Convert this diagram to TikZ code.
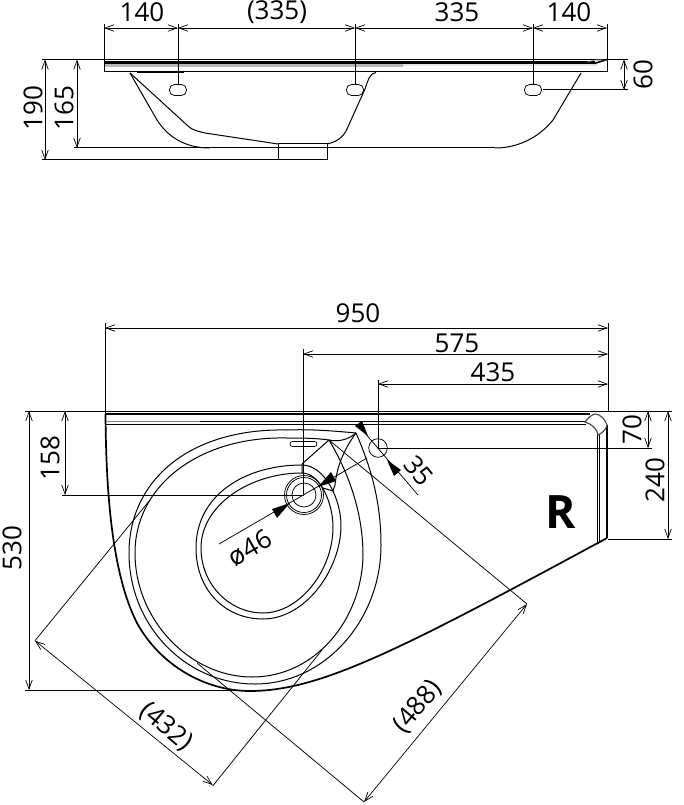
\documentclass[tikz,border=0pt]{standalone}
\usepackage{fontspec}
\setmainfont{Open Sans}
\usetikzlibrary{arrows.meta}
\tikzset{
 ln/.style={line width=1pt,black},
 thin ln/.style={line width=0.75pt,black},
 heavy/.style={line width=2.2pt,black},
 dim/.style={line width=0.7pt,black,{Straight Barb[length=9pt,width=6.5pt]}-{Straight Barb[length=9pt,width=6.5pt]}},
 lab/.style={font=\fontsize{26}{26}\selectfont,inner sep=0pt,text=black},
 solidtip/.style={black,fill=black,draw=none},
}
\begin{document}
\begin{tikzpicture}[x=1pt,y=-1pt,every node/.style={anchor=center}]
\useasboundingbox[fill=white] (0,0) rectangle (683,805);
% ---------- side view
\fill[gray!55] (104,64) rectangle (403,67.5);
\fill[gray!20] (403,64) rectangle (597,66.5);
\draw[ln] (104,59.5) -- (607,59.5) -- (607,72) -- (104,72) -- cycle;
\draw[line width=3pt] (105,63) -- (595,63);
\draw[line width=1.6pt] (595,63.3) -- (607,59.5);
\draw[line width=0.7pt,gray] (587,62) -- (595,60) -- (603,60);
\draw[line width=1.2pt] (137,72.7) -- (184,72.7);
\draw[ln] (130,73) -- (157,120) .. controls (168,137) and (185,148) .. (210,148);
\draw[ln] (130,73) -- (188,126) .. controls (192,130) and (197,131) .. (205,133) -- (278,144);
\draw[ln] (327,144) .. controls (336,142) and (343,138) .. (347,129) -- (365,89) .. controls (368,80) and (370,73) .. (376,72.5);
\draw[ln] (581,73) -- (553,120) .. controls (540,136) and (520,148) .. (495,148);
\draw[ln] (74,148) -- (495,148);
\draw[ln] (42,160) -- (327,160);
\draw[ln] (278,144) rectangle (327,160);
\draw[ln] (42,59.5) -- (104,59.5);
\foreach \x in {178,355,533} {
  \draw[ln] (\x,24) -- (\x,84);
  \draw[thin ln,rounded corners=5pt] (\x-8.5,84.5) rectangle (\x+8.5,95.5);
}
\draw[ln] (104,24) -- (104,60);
\draw[ln] (607,24) -- (607,60);
\draw[ln] (607,59.5) -- (628,59.5);
\draw[ln] (543,90) -- (628,90);
\draw[dim] (104,28) -- (178,28);
\draw[dim] (178,28) -- (355,28);
\draw[dim] (355,28) -- (533,28);
\draw[dim] (533,28) -- (607,28);
\draw[dim] (45,59.5) -- (45,160);
\draw[dim] (77,59.5) -- (77,148);
\draw[dim] (624,59.5) -- (624,90);
\node[lab] (a1) at (142,12) {140};
\node[lab] (a2) at (277,12) {(335)};
\node[lab] (a3) at (457,12) {335};
\node[lab] (a4) at (569,12) {140};
\node[lab,rotate=90] (a5) at (33,108) {190};
\node[lab,rotate=90] (a6) at (64,108) {165};
\node[lab,rotate=90] (a7) at (643,75) {60};
% ---------- plan view: extension lines
\draw[ln] (25,411) -- (672,411);
\draw[ln] (105,323) -- (105,414);
\draw[ln] (608,323) -- (608,411);
\draw[ln] (303,349) -- (303,495);
\draw[ln] (378,380) -- (378,448);
\draw[ln] (62,495) -- (304,495);
\draw[ln] (378,448) -- (652,448);
\draw[ln] (608,539) -- (672,539);
\draw[ln] (25,690) -- (255,690);
\draw[dim] (105,328) -- (608,328);
\draw[dim] (303,354) -- (608,354);
\draw[dim] (378,384) -- (608,384);
\draw[dim] (65,411) -- (65,495);
\draw[dim] (29,411) -- (29,690);
\draw[dim] (648,411) -- (648,448);
\draw[dim] (668,411) -- (668,539);
\node[lab] (b1) at (358,313) {950};
\node[lab] (b2) at (457,343) {575};
\node[lab] (b3) at (493,372) {435};
\node[lab,rotate=90] (b4) at (50,458) {158};
\node[lab,rotate=90] (b5) at (12,548) {530};
\node[lab,rotate=90] (b6) at (632,430) {70};
\node[lab,rotate=90] (b7) at (655,480) {240};
\node[font=\fontsize{46}{46}\selectfont\bfseries,inner sep=0pt] (r) at (561,512) {R};
% ---------- plan view: sink outline
\draw[line width=1.7pt] (105.5,414) .. controls (106,480) and (110,570) .. (137,623)
   .. controls (160,665) and (205,691) .. (250,691)
   .. controls (320,691) and (400,650) .. (607,538);
\draw[heavy] (106,414) -- (590,414);
\draw[line width=1pt,gray] (106,421.5) -- (200,421.5);
\draw[thin ln] (200,421.5) -- (585,421.5);
\draw[thin ln] (106,424) -- (586,424);
\draw[line width=1.8pt] (607,425) -- (607,538);
\draw[thin ln] (597,433) -- (597,544);
\draw[thin ln] (599.5,433) -- (599.5,542);
\draw[thin ln] (597,544) -- (607,538);
\draw[line width=1.2pt,gray!60!black,fill=white] (585,422) .. controls (588,418) and (591,415) .. (595,414)
  .. controls (600,414) and (605,419) .. (607,425) .. controls (606,430) and (602,433) .. (598,435)
  .. controls (597,429) and (592,424) .. (585,422) -- cycle;
% ---------- bowl rings
\draw[ln] (356,433) .. controls (335,431) and (310,429) .. (287,430)
  .. controls (190,428) and (129,480) .. (129,553)
  .. controls (129,625) and (185,684) .. (255,684)
  .. controls (325,684) and (381,620) .. (381,545)
  .. controls (381,500) and (370,465) .. (356,433);
\draw[ln] (329,440) .. controls (315,438) and (300,438) .. (287,438)
  .. controls (200,436) and (135,485) .. (135,553)
  .. controls (135,620) and (190,677) .. (252,677)
  .. controls (315,677) and (362,620) .. (363,555)
  .. controls (363,515) and (350,475) .. (329,440);
\draw[ln] (302,465) .. controls (245,465) and (196,495) .. (196,548)
  .. controls (196,590) and (225,619) .. (263,619)
  .. controls (305,619) and (341,570) .. (341,525)
  .. controls (341,500) and (325,465) .. (302,465);
\draw[ln] (302,473) .. controls (250,473) and (201,505) .. (201,548)
  .. controls (201,585) and (230,613) .. (263,613)
  .. controls (300,613) and (333,570) .. (333,527)
  .. controls (333,503) and (320,473) .. (302,473);
\draw[ln] (329,440) -- (302,464) -- (302,473);
\draw[ln] (329,440) .. controls (338,442) and (348,440) .. (356,433);
\draw[ln] (356,433) .. controls (345,448) and (337,465) .. (335,485) -- (333,491) -- (323,488);
% slot
\draw[thin ln,rounded corners=2.4pt] (290,441.5) rectangle (317,446.5);
% drain
\draw[thin ln] (304,495) circle (19.5);
\draw[thin ln] (304,495) circle (17.5);
\draw[thin ln] (304,495) circle (12);
\draw[thin ln] (378,448) circle (9.3);
% ---------- leaders
\draw[thin ln] (35,640.7) -- (150,500);
\draw[thin ln] (212.7,786) -- (322,650);
\draw[thin ln] (329,440) -- (527,604);
\draw[thin ln] (197,663) -- (364,802);
\draw[dim] (35,640.7) -- (212.7,785);
\draw[dim] (364,802) -- (527,604);
\draw[thin ln] (219,544) -- (367,458);
\fill[solidtip] (290,503) -- (272,509) -- (277,518) -- cycle;
\fill[solidtip] (318,487) -- (336,481) -- (331,472) -- cycle;
\draw[thin ln] (358,425) -- (418,495);
\fill[solidtip] (368,436) -- (355,426) -- (362,421) -- cycle;
\fill[solidtip] (387,460) -- (401,470) -- (394,476) -- cycle;
\node[lab,rotate=30] (c1) at (250,548) {ø46};
\node[lab,rotate=-50] (c2) at (419,471) {35};
\node[lab,rotate=-40] (c3) at (166,727) {(432)};
\node[lab,rotate=50] (c4) at (418,707) {(488)};
\end{tikzpicture}
\end{document}
